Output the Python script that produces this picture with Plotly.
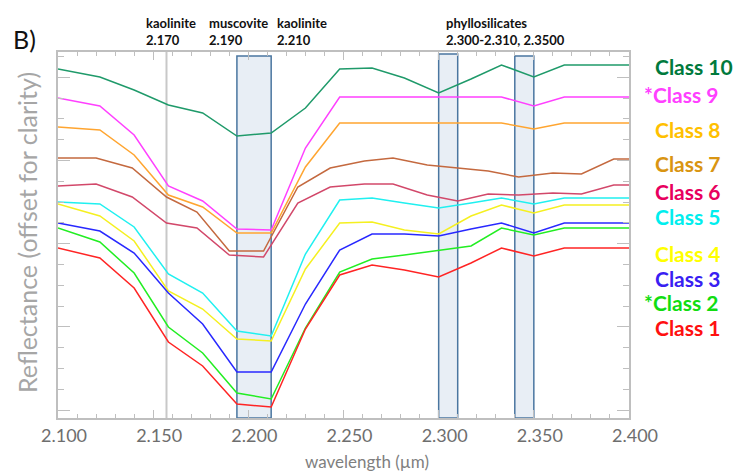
import plotly.graph_objects as go

# wavelength grids (µm)
wl_a = [2.100, 2.122, 2.140, 2.158, 2.176, 2.194, 2.212, 2.230, 2.248, 2.265,
        2.282, 2.300, 2.317, 2.333, 2.350, 2.366, 2.383, 2.400]
wl_b = [2.100, 2.120, 2.139, 2.157, 2.173, 2.190, 2.208, 2.226, 2.243, 2.261,
        2.276, 2.294, 2.310, 2.326, 2.342, 2.360, 2.375, 2.392, 2.400]

# reflectance (offset for clarity)
class10 = [0.341, 0.333, 0.320, 0.305, 0.297, 0.274, 0.277, 0.302, 0.341, 0.342,
           0.332, 0.317, 0.331, 0.345, 0.333, 0.345, 0.345, 0.345]
class9 = [0.312, 0.304, 0.275, 0.224, 0.209, 0.181, 0.180, 0.262, 0.313, 0.313,
          0.313, 0.313, 0.313, 0.313, 0.304, 0.313, 0.313, 0.313]
class8 = [0.283, 0.280, 0.255, 0.215, 0.203, 0.177, 0.177, 0.243, 0.287, 0.287,
          0.287, 0.287, 0.287, 0.287, 0.281, 0.287, 0.287, 0.287]
class7 = [0.252, 0.252, 0.242, 0.213, 0.198, 0.159, 0.159, 0.223, 0.242, 0.249,
          0.252, 0.245, 0.242, 0.239, 0.233, 0.237, 0.236, 0.251, 0.251]
class6 = [0.224, 0.226, 0.213, 0.187, 0.182, 0.155, 0.153, 0.207, 0.223, 0.226,
          0.226, 0.215, 0.209, 0.216, 0.215, 0.217, 0.216, 0.225, 0.225]
class5 = [0.208, 0.206, 0.183, 0.136, 0.117, 0.079, 0.074, 0.156, 0.210, 0.212,
          0.207, 0.202, 0.207, 0.212, 0.206, 0.212, 0.212, 0.212]
class4 = [0.206, 0.194, 0.169, 0.119, 0.101, 0.071, 0.069, 0.141, 0.187, 0.188,
          0.180, 0.176, 0.194, 0.205, 0.197, 0.205, 0.205, 0.205]
class3 = [0.187, 0.179, 0.157, 0.117, 0.086, 0.038, 0.038, 0.106, 0.160, 0.176,
          0.176, 0.174, 0.181, 0.187, 0.177, 0.187, 0.187, 0.187]
class2 = [0.182, 0.168, 0.137, 0.083, 0.057, 0.017, 0.011, 0.082, 0.138, 0.151,
          0.155, 0.160, 0.164, 0.182, 0.175, 0.182, 0.182, 0.182]
class1 = [0.162, 0.152, 0.122, 0.068, 0.044, 0.006, 0.003, 0.081, 0.135, 0.145,
          0.140, 0.133, 0.147, 0.162, 0.154, 0.162, 0.162, 0.162]

class_names = ["Class 10", "*Class 9", "Class 8", "Class 7", "Class 6",
               "Class 5", "Class 4", "Class 3", "*Class 2", "Class 1"]

# absorption feature bands (µm)
band_x0 = [2.194, 2.300, 2.340]
band_x1 = [2.212, 2.310, 2.350]
kaolinite_line = 2.157

x_ticks = [2.100, 2.150, 2.200, 2.250, 2.300, 2.350, 2.400]
x_ticklabels = ["2.100", "2.150", "2.200", "2.250", "2.300", "2.350", "2.400"]

series = [
    (wl_a, class10, "#1F9A6A"),
    (wl_a, class9, "#FF40FF"),
    (wl_a, class8, "#FFA530"),
    (wl_b, class7, "#C4693F"),
    (wl_b, class6, "#D2486A"),
    (wl_a, class5, "#20F0F0"),
    (wl_a, class4, "#F5F020"),
    (wl_a, class3, "#2828FF"),
    (wl_a, class2, "#22EE22"),
    (wl_a, class1, "#FF2424"),
]
label_colors = ["#007A3D", "#FF40FF", "#FFC000", "#D99512", "#E8005E",
                "#00EEEE", "#FFFF00", "#3A1FF2", "#11DD11", "#FF1010"]

W, H = 739, 471
L, R, T, B = 58, 629, 52, 418


def px(x):
    return (x - L) / (R - L)


def py(y):
    return (B - y) / (B - T)


fig = go.Figure()
for (xs, ys, col), name in zip(series, class_names):
    fig.add_trace(go.Scatter(x=xs, y=ys, mode="lines", name=name,
                             line=dict(color=col, width=1.5), showlegend=False))

shape_tops = [56, 54, 56]
for x0, x1, top in zip(band_x0, band_x1, shape_tops):
    fig.add_shape(type="rect", xref="x", yref="paper", x0=x0, x1=x1, y0=0, y1=py(top),
                  fillcolor="#E8EEF5", line=dict(color="#4A76A0", width=1.5), layer="below")
fig.add_shape(type="line", xref="x", yref="paper", x0=kaolinite_line, x1=kaolinite_line,
              y0=0, y1=1, line=dict(color="#C8C8C8", width=2), layer="below")

ann = []
label_y = [66, 94, 129, 163, 191, 217, 254, 278, 302, 327]
for name, col, yy in zip(class_names, label_colors, label_y):
    ax = 642 if name.startswith("*") else 653
    ann.append(dict(text="<b>%s</b>" % name, x=px(ax), y=py(yy), xref="paper", yref="paper",
                    xanchor="left", yanchor="middle", showarrow=False,
                    font=dict(family="Lato", size=21, color=col)))

top_labels = [("kaolinite<br>2.170", 144), ("muscovite<br>2.190", 207),
              ("kaolinite<br>2.210", 275), ("phyllosilicates<br>2.300-2.310, 2.3500", 444)]
for txt, xx in top_labels:
    ann.append(dict(text="<b>%s</b>" % txt, x=px(xx), y=py(31.5), xref="paper", yref="paper",
                    xanchor="left", yanchor="middle", align="left", showarrow=False,
                    font=dict(family="Lato", size=13, color="#111111")))

ann.append(dict(text="B)", x=px(24), y=py(39), xref="paper", yref="paper",
                xanchor="center", yanchor="middle", showarrow=False,
                font=dict(family="Lato", size=25, color="#111111")))
ann.append(dict(text="Reflectance (offset for clarity)", x=px(27), y=py(233), xref="paper",
                yref="paper", xanchor="center", yanchor="middle", textangle=-90,
                showarrow=False, font=dict(family="Lato", size=25, color="#A6A6A6")))
ann.append(dict(text="wavelength (µm)", x=px(367), y=py(462), xref="paper", yref="paper",
                xanchor="center", yanchor="middle", showarrow=False,
                font=dict(family="Lato", size=17, color="#7F7F7F")))

axis_col = "#BFBFBF"
fig.update_layout(
    width=W, height=H,
    margin=dict(l=L, r=W - R, t=T, b=H - B),
    paper_bgcolor="white", plot_bgcolor="white",
    annotations=ann,
    xaxis=dict(range=[2.1, 2.4], tickvals=x_ticks, ticktext=x_ticklabels,
               ticks="inside", ticklen=8, tickwidth=1, tickcolor=axis_col,
               showline=True, linecolor=axis_col, linewidth=2, mirror="allticks",
               showgrid=False, zeroline=False, ticklabelshift=6,
               tickfont=dict(family="Lato", size=18, color="#6E6E6E"),
               minor=dict(dtick=0.01, tick0=2.1, ticks="inside", ticklen=4,
                          tickcolor=axis_col, showgrid=False)),
    yaxis=dict(range=[-0.008, 0.358], tick0=0, dtick=0.0832, showticklabels=False,
               ticks="inside", ticklen=12, tickwidth=1, tickcolor=axis_col,
               showline=True, linecolor=axis_col, linewidth=2, mirror="allticks",
               showgrid=False, zeroline=False,
               minor=dict(dtick=0.0208, tick0=0, ticks="inside", ticklen=6,
                          tickcolor=axis_col, showgrid=False)),
)

fig.write_html("out.html", config={"displayModeBar": False},
               post_script="document.body.style.margin='0';document.body.style.overflow='hidden';")
